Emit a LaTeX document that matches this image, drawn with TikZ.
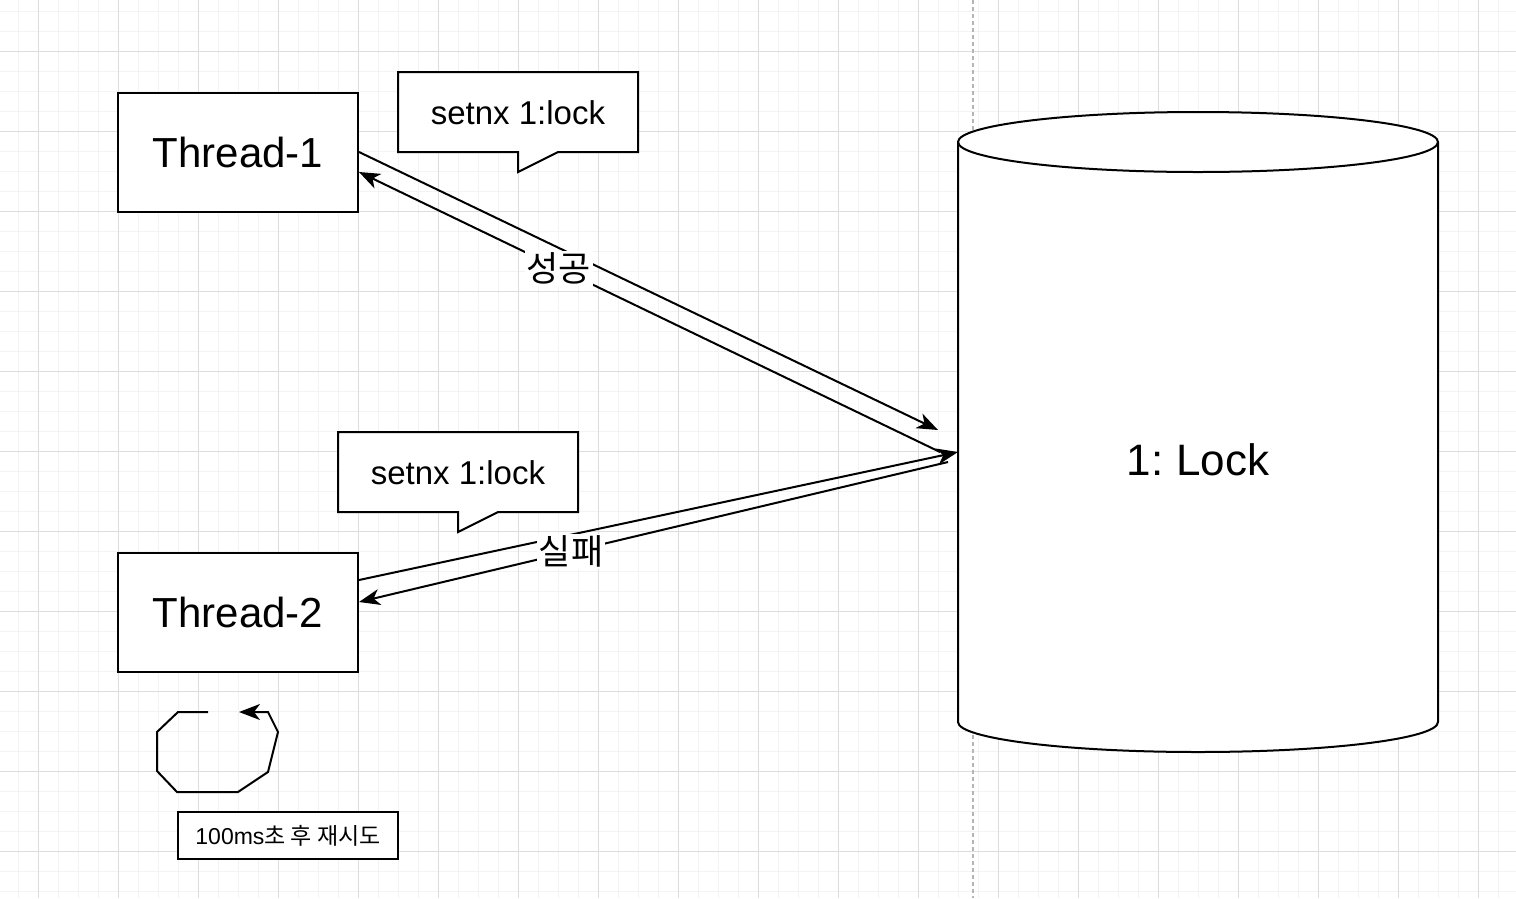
\documentclass[tikz,border=0pt]{standalone}
\usepackage{fontspec}
\setmainfont{Liberation Sans}
\newfontfamily\kr{Noto Sans CJK KR}
\usetikzlibrary{arrows.meta,calc}
\definecolor{minorgrid}{HTML}{F3F3F3}
\definecolor{majorgrid}{HTML}{DDDDDD}
\definecolor{dashgray}{HTML}{B5B5B5}
\tikzset{
  fs/.style={font=\fontsize{#1}{#1}\selectfont},
  box/.style={draw=black, line width=2pt, fill=white, minimum width=240pt, minimum height=119pt, inner sep=0pt},
  shp/.style={draw=black, line width=2pt, fill=white},
  tip/.style={-{Stealth[length=21pt,width=16pt,inset=6pt]}},
  conn/.style={line width=2pt, tip},
  lbl/.style={fill=white, inner sep=2pt, fs=35},
}
\begin{document}
\begin{tikzpicture}[x=1pt,y=-1pt]
\useasboundingbox (0,0) rectangle (1516,898);
\fill[white] (0,0) rectangle (1516,898);
% grid
\foreach \x in {-2,18,...,1516} \draw[minorgrid, line width=1pt] (\x,0) -- (\x,898);
\foreach \y in {11,31,...,898} \draw[minorgrid, line width=1pt] (0,\y) -- (1516,\y);
\foreach \x in {38,118,...,1516} \draw[majorgrid, line width=1pt] (\x,0) -- (\x,898);
\foreach \y in {51,131,...,898} \draw[majorgrid, line width=1pt] (0,\y) -- (1516,\y);
\draw[dashgray, line width=1.2pt, dash pattern=on 4pt off 3pt] (973,0) -- (973,898);

% cylinder
\path[shp] (958,142) -- (958,722) arc[start angle=180, end angle=0, x radius=240, y radius=30] -- (1438,142) arc[start angle=0, end angle=-180, x radius=240, y radius=30] -- cycle;
\draw[black, line width=2pt] (958,142) arc[start angle=180, end angle=0, x radius=240, y radius=30];
\node[fs=44] (lock) at (1198,460) {1:\hspace{-3pt} Lock};
\coordinate (lockW) at (958,452);

% thread boxes
\node[box, fs=42] (t1) at (238,152) {Thread-1};
\node[box, fs=42] (t2) at (238,612) {Thread-2};

% callouts
\path[shp] (398,72) -- (638,72) -- (638,152) -- (558,152) -- (518,172) -- (518,152) -- (398,152) -- cycle;
\node[fs=33] (c1) at (518,113) {setnx 1:lock};
\path[shp] (338,432) -- (578,432) -- (578,512) -- (498,512) -- (458,532) -- (458,512) -- (338,512) -- cycle;
\node[fs=33] (c2) at (458,473) {setnx 1:lock};

% connectors
\coordinate (a1s) at ($(t1.east)+(0,0)$);
\coordinate (a1e) at (938,430);
\coordinate (a2s) at (940,452);
\coordinate (a2e) at ($(t1.east)+(0,20)$);
\coordinate (a3s) at ($(t2.east)+(0,-32)$);
\coordinate (a4s) at (948,462);
\coordinate (a4e) at ($(t2.east)+(0,-10)$);
\draw[conn] (a1s) -- (a1e);
\draw[conn] (a2s) -- node[lbl, pos=0.656] (ok) {\kr 성공} (a2e);
\draw[conn] (a3s) -- (lockW);
\draw[conn] (a4s) -- node[lbl, pos=0.64] (fail) {\kr 실패} (a4e);

% retry loop
\coordinate (l0) at (208,712);
\coordinate (l9) at (239,712);
\draw[line width=2pt, tip] (l0) -- (178,712) -- (157,732) -- (157,771) -- (177,792) -- (238,792) -- (268,772) -- (278,732) -- (268,712) -- (l9);
\node[draw=black, line width=2pt, fill=white, minimum width=220pt, minimum height=47pt, inner sep=0pt, fs=23] (retry) at (288,835.5) {100ms{\kr 초 후 재시도}};
\end{tikzpicture}
\end{document}
